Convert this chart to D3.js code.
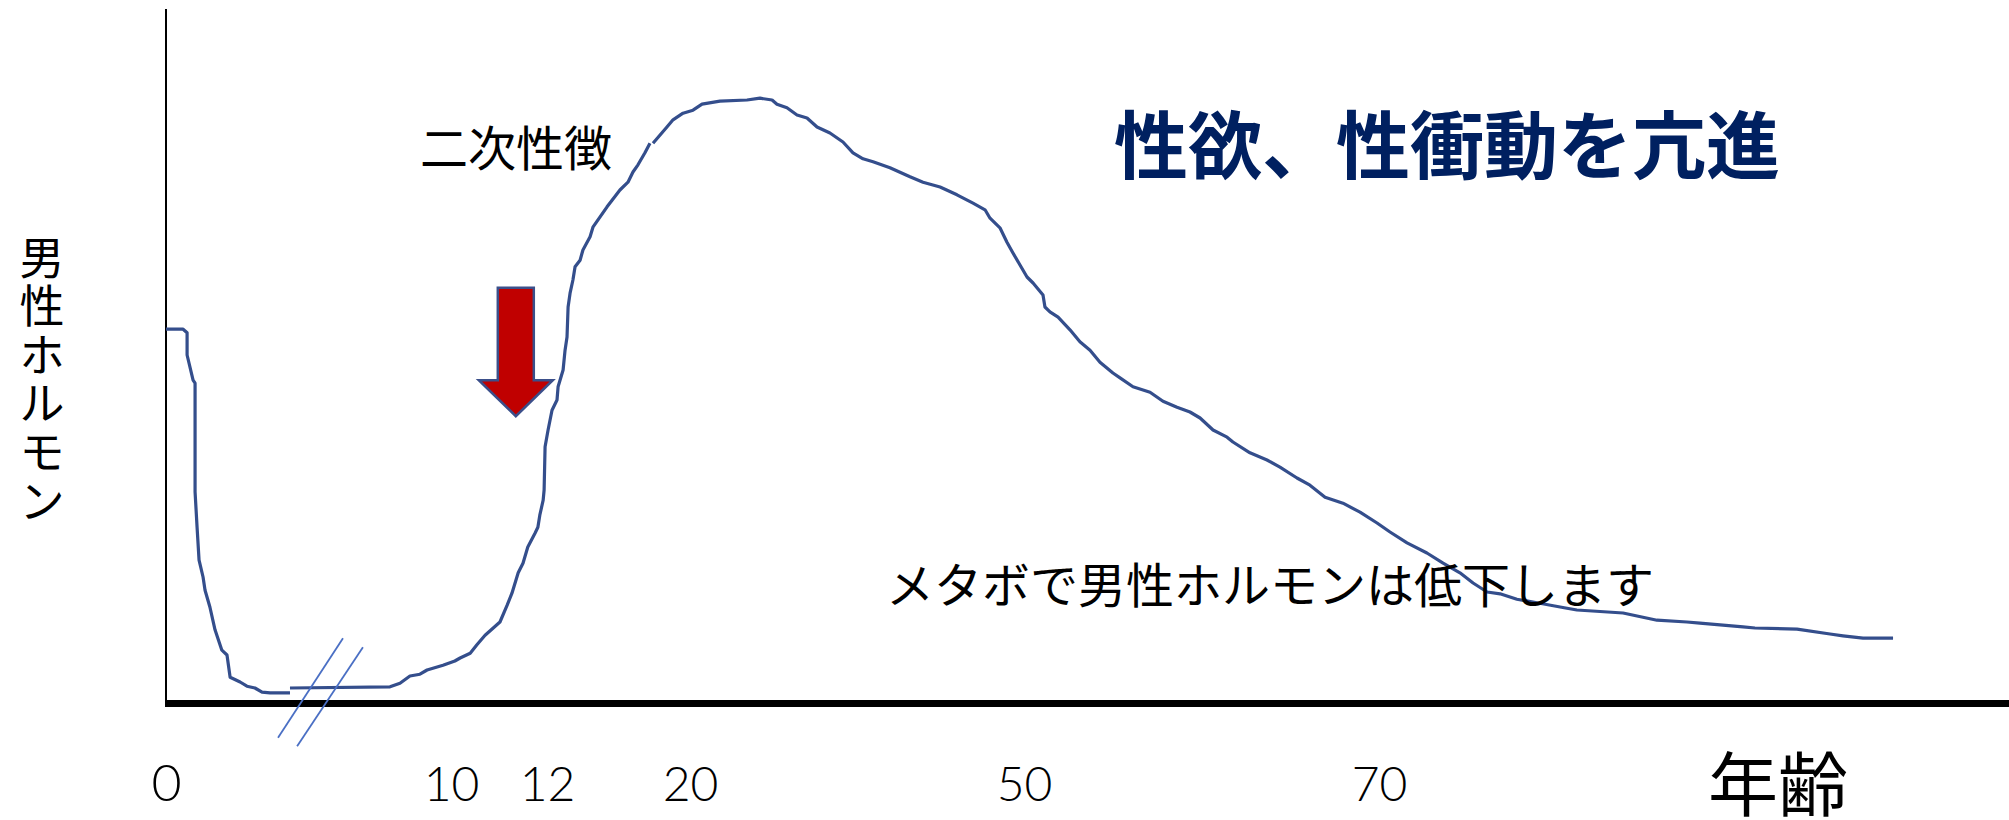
<!DOCTYPE html>
<html>
<head>
<meta charset="utf-8">
<script src="https://cdn.jsdelivr.net/npm/d3@7"></script>
<style>
  body { margin: 0; background: #fff; }
  svg { display: block; }
</style>
</head>
<body>
<div id="chart"></div>
<script>
// 男性ホルモン level (0-100) by age
var infantLevels = [
  [0, 61.8], [0.6, 61.8], [0.74, 61.2], [0.74, 57.5], [0.95, 53.3], [1.02, 52.8],
  [1.02, 34.7], [1.09, 28.8], [1.16, 23.3], [1.3, 20.5], [1.37, 18.3], [1.54, 15.5],
  [1.72, 11.7], [1.96, 8.3], [2.14, 7.5], [2.25, 3.8], [2.6, 3.0], [2.84, 2.3],
  [3.12, 2.0], [3.37, 1.3], [3.65, 1.2], [4.35, 1.2]
];

var pubertyLevels = [
  [4.35, 2.0], [7.86, 2.2], [8.21, 2.8], [8.56, 4.0], [8.91, 4.3], [9.16, 5.0],
  [9.72, 5.8], [10.08, 6.5], [10.19, 7.0], [10.4, 7.8], [10.54, 9.2], [10.71, 10.8],
  [10.88, 12.0], [11.02, 13.0], [11.17, 15.8], [11.27, 17.8], [11.4, 21.2], [11.5, 22.8],
  [11.6, 25.5], [11.75, 27.8], [11.81, 28.8], [11.85, 30.8], [11.92, 33.3], [11.94, 35.0],
  [11.96, 42.2], [12.06, 45.0], [12.28, 48.3], [12.56, 50.0], [12.62, 52.2], [12.9, 55.0],
  [13.01, 58.3], [13.12, 60.5], [13.18, 65.5], [13.29, 67.8], [13.45, 70.0], [13.57, 72.2],
  [13.85, 73.3], [14.01, 75.0], [14.41, 77.2], [14.57, 78.8], [15.36, 82.2], [15.64, 83.3],
  [16.08, 85.0], [16.53, 86.3], [16.81, 88.0], [17.09, 89.2], [17.48, 91.2], [17.76, 92.8]
];

var adultLevels = [
  [17.93, 92.8], [18.71, 95.5], [19.05, 96.7], [19.61, 97.8], [20.27, 98.3], [21.08, 99.3],
  [22.69, 99.8], [25.12, 100], [26.29, 100.3], [27.37, 100], [27.81, 99.3], [28.71, 98.7],
  [29.61, 97.5], [30.51, 97.0], [31.41, 95.5], [32.57, 94.5], [33.74, 93.0], [34.64, 91.2],
  [35.54, 90.2], [36.44, 89.7], [37.96, 88.7], [39.76, 87.2], [40.93, 86.3], [42.46, 85.5],
  [43.98, 84.2], [45.42, 82.8], [46.5, 81.7], [46.95, 80.3], [47.84, 78.7], [48.47, 76.3],
  [49.01, 74.5], [49.64, 72.5], [50.17, 70.5], [50.51, 69.5], [51.07, 67.5], [51.18, 65.5],
  [51.46, 64.7], [51.92, 63.8], [52.59, 61.7], [53.15, 59.7], [53.72, 58.3], [54.28, 56.3],
  [55.01, 54.5], [55.41, 53.7], [56.14, 52.2], [57.1, 51.3], [57.83, 49.8], [58.62, 48.8],
  [59.35, 48.0], [59.92, 47.0], [60.65, 45.0], [61.44, 43.8], [61.77, 43.0], [62.73, 41.2],
  [63.69, 40.0], [64.42, 38.8], [65.38, 37.0], [66.11, 35.8], [66.96, 33.8], [67.97, 32.8],
  [68.93, 31.3], [69.89, 29.5], [70.62, 28.0], [71.58, 26.2], [72.7, 24.5], [73.61, 22.8],
  [74.56, 21.2], [75.3, 19.5], [76.09, 18.0], [76.82, 17.7], [77.77, 16.8], [78.9, 16.2],
  [80.59, 15.3], [81.15, 15.0], [83.75, 14.5], [84.54, 14.0], [85.66, 13.3], [87.35, 13.0],
  [88.08, 12.8], [90.51, 12.2], [91.18, 12.0], [93.55, 11.8], [95.41, 11.0], [96.14, 10.7],
  [97.27, 10.3], [98.96, 10.3]
];

var tickAges = [0, 10, 12, 20, 50, 70];
var breakMarks = [[[6.21, 10.3], [3.93, -6.3]], [[6.91, 8.8], [4.6, -7.7]]];
var arrowAge = 11.35, arrowLevels = [68.7, 53.3, 47.3]; // top, head base, tip

var yTitle = "男性ホルモン",
    xTitle = "年齢",
    title = "性欲、性衝動を亢進",
    noteTop = "二次性徴",
    noteBottom = "メタボで男性ホルモンは低下します";

var width = 2009, height = 820;
var cjk = "'Noto Sans CJK JP', 'Noto Sans', sans-serif";

var svg = d3.select("#chart").append("svg")
    .attr("width", width)
    .attr("height", height);

// the age axis is not to scale: piecewise between the labelled ages
var x = d3.scaleLinear()
    .domain([0, 10, 12, 20, 50, 70, 100])
    .range([166, 451, 547, 690, 1024, 1379, 1911.5]);

var y = d3.scaleLinear()
    .domain([0, 100])
    .range([700, 100]);

var line = d3.line()
    .x(function(d) { return x(d[0]); })
    .y(function(d) { return y(d[1]); });

// axes
svg.append("line")
    .attr("x1", x(0)).attr("x2", x(0))
    .attr("y1", 9).attr("y2", y(0))
    .attr("stroke", "#000")
    .attr("stroke-width", 2);

svg.append("line")
    .attr("x1", x(0) - 1).attr("x2", width)
    .attr("y1", y(0) + 3.5).attr("y2", y(0) + 3.5)
    .attr("stroke", "#000")
    .attr("stroke-width", 7);

var xAxis = svg.append("g")
    .attr("transform", "translate(0," + (y(0) + 3.5) + ")")
    .call(d3.axisBottom(x).tickValues(tickAges).tickSize(0).tickPadding(0).tickFormat(d3.format("d")));
xAxis.select(".domain").remove();
xAxis.selectAll("text")
    .attr("y", 97)
    .attr("dy", 0)
    .attr("fill", "#000")
    .style("font-family", "'Liberation Sans Narrow', Lato, sans-serif")
    .style("font-weight", 300)
    .style("font-size", function(d) { return d === 0 ? "52px" : "48px"; });

// hormone curve
[infantLevels, pubertyLevels, adultLevels].forEach(function(seg) {
  svg.append("path")
      .datum(seg)
      .attr("d", line)
      .attr("fill", "none")
      .attr("stroke", "#344E8C")
      .attr("stroke-width", 3.2)
      .attr("stroke-linejoin", "round");
});

// break marks on the age axis
svg.selectAll(".break")
  .data(breakMarks)
  .enter().append("line")
    .attr("class", "break")
    .attr("x1", function(d) { return x(d[0][0]); })
    .attr("y1", function(d) { return y(d[0][1]); })
    .attr("x2", function(d) { return x(d[1][0]); })
    .attr("y2", function(d) { return y(d[1][1]); })
    .attr("stroke", "#4A6FC4")
    .attr("stroke-width", 1.8);

// red arrow at puberty
var ax = x(arrowAge), shaft = 18, head = 37;
svg.append("path")
    .attr("d", "M" + (ax - shaft) + "," + y(arrowLevels[0]) +
               "H" + (ax + shaft) + "V" + y(arrowLevels[1]) +
               "H" + (ax + head) + "L" + ax + "," + y(arrowLevels[2]) +
               "L" + (ax - head) + "," + y(arrowLevels[1]) +
               "H" + (ax - shaft) + "Z")
    .attr("fill", "#C00000")
    .attr("stroke", "#3B4F8A")
    .attr("stroke-width", 2.5)
    .attr("stroke-linejoin", "miter");

// texts
svg.selectAll(".ylab")
  .data(yTitle.split(""))
  .enter().append("text")
    .attr("class", "ylab")
    .attr("x", 42)
    .attr("y", function(d, i) { return 255 + i * 48.6; })
    .attr("dominant-baseline", "central")
    .attr("text-anchor", "middle")
    .attr("font-family", cjk)
    .attr("font-size", 45)
    .attr("fill", "#000")
    .text(function(d) { return d; });

svg.append("text")
    .attr("x", 1778).attr("y", 780)
    .attr("dominant-baseline", "central")
    .attr("text-anchor", "middle")
    .attr("font-family", cjk)
    .attr("font-size", 70)
    .attr("fill", "#000")
    .text(xTitle);

svg.append("text")
    .attr("x", 1447).attr("y", 140)
    .attr("dominant-baseline", "central")
    .attr("text-anchor", "middle")
    .attr("font-family", cjk)
    .attr("font-weight", 700)
    .attr("font-size", 74)
    .attr("fill", "#002060")
    .text(title);

svg.append("text")
    .attr("x", 516).attr("y", 145)
    .attr("dominant-baseline", "central")
    .attr("text-anchor", "middle")
    .attr("font-family", cjk)
    .attr("font-size", 48)
    .attr("fill", "#000")
    .text(noteTop);

svg.append("text")
    .attr("x", 1270).attr("y", 582)
    .attr("dominant-baseline", "central")
    .attr("text-anchor", "middle")
    .attr("font-family", cjk)
    .attr("font-size", 48)
    .attr("fill", "#000")
    .text(noteBottom);
</script>
</body>
</html>
